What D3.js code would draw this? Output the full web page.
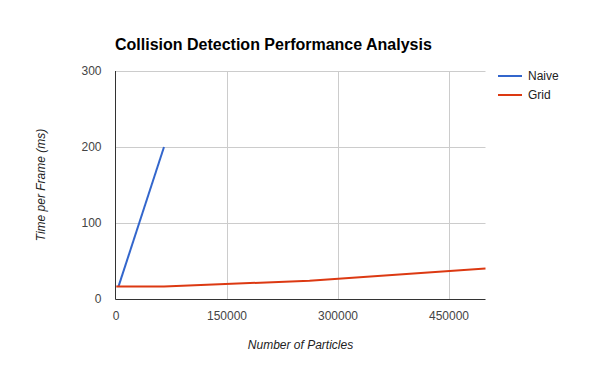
<!DOCTYPE html>
<html>
<head>
<meta charset="utf-8">
<script src="https://cdn.jsdelivr.net/npm/d3@7"></script>
<style>
  body { margin: 0; background: #fff; }
  text { font-family: Arial, "Liberation Sans", sans-serif; }
</style>
</head>
<body>
<svg id="chart" width="600" height="371"></svg>
<script>
const naiveX = [4096, 65536];
const naiveY = [16.6, 200];
const gridX = [1024, 65536, 262144, 500000];
const gridY = [16.3, 16.5, 24, 40];
const xTicks = [0, 150000, 300000, 450000];
const yTicks = [0, 100, 200, 300];
const seriesNames = ["Naive", "Grid"];
const seriesColors = ["#3366cc", "#dc3912"];

const plotLeft = 115.5, plotRight = 485.5, plotTop = 71, plotBottom = 299;

const svg = d3.select("#chart");

const xScale = d3.scaleLinear().domain([0, 500000]).range([plotLeft, plotRight]);
const yScale = d3.scaleLinear().domain([0, 300]).range([plotBottom, plotTop]);

// gridlines
svg.append("g")
  .selectAll("line")
  .data(yTicks.slice(1))
  .enter().append("line")
  .attr("x1", plotLeft).attr("x2", plotRight)
  .attr("y1", d => yScale(d) + 0.5).attr("y2", d => yScale(d) + 0.5)
  .attr("stroke", "#cccccc");

svg.append("g")
  .selectAll("line")
  .data(xTicks.slice(1))
  .enter().append("line")
  .attr("x1", d => Math.round(xScale(d)) + 0.5).attr("x2", d => Math.round(xScale(d)) + 0.5)
  .attr("y1", plotTop).attr("y2", plotBottom)
  .attr("stroke", "#cccccc");

// axes
const xAxis = d3.axisBottom(xScale).tickValues(xTicks).tickSize(0).tickPadding(12).tickFormat(d3.format("d"));
const yAxis = d3.axisLeft(yScale).tickValues(yTicks).tickSize(0).tickPadding(14).tickFormat(d3.format("d"));

const gx = svg.append("g")
  .attr("transform", `translate(0, ${plotBottom})`)
  .call(xAxis);
gx.select(".domain").remove();
gx.selectAll("text").attr("font-size", 12).attr("fill", "#444").attr("font-family", "Arial, 'Liberation Sans', sans-serif");

const gy = svg.append("g")
  .attr("transform", `translate(${plotLeft}, 0)`)
  .call(yAxis);
gy.select(".domain").remove();
gy.selectAll("text").attr("font-size", 12).attr("fill", "#444").attr("font-family", "Arial, 'Liberation Sans', sans-serif");

// lines
const line = d3.line().x(d => xScale(d[0])).y(d => yScale(d[1]));
const series = [
  d3.zip(naiveX, naiveY),
  d3.zip(gridX, gridY)
];

series.forEach((s, i) => {
  svg.append("path")
    .datum(s)
    .attr("d", line)
    .attr("fill", "none")
    .attr("stroke", seriesColors[i])
    .attr("stroke-width", 2);
});

// axis lines on top
svg.append("line")
  .attr("x1", plotLeft).attr("x2", plotLeft)
  .attr("y1", plotTop).attr("y2", plotBottom + 0.5)
  .attr("stroke", "#333");
svg.append("line")
  .attr("x1", plotLeft).attr("x2", plotRight)
  .attr("y1", plotBottom + 0.5).attr("y2", plotBottom + 0.5)
  .attr("stroke", "#333");

// title
svg.append("text")
  .attr("x", 115).attr("y", 50)
  .attr("font-size", 16).attr("font-weight", "bold")
  .attr("fill", "#000")
  .text("Collision Detection Performance Analysis");

// axis titles
svg.append("text")
  .attr("x", (plotLeft + plotRight) / 2).attr("y", 349)
  .attr("text-anchor", "middle")
  .attr("font-size", 12).attr("font-style", "italic")
  .attr("fill", "#222")
  .text("Number of Particles");

svg.append("text")
  .attr("transform", `translate(45, ${(plotTop + plotBottom) / 2}) rotate(-90)`)
  .attr("text-anchor", "middle")
  .attr("font-size", 12).attr("font-style", "italic")
  .attr("fill", "#222")
  .text("Time per Frame (ms)");

// legend
const legend = svg.append("g");
seriesNames.forEach((name, i) => {
  const y = 76 + i * 19;
  legend.append("line")
    .attr("x1", 498).attr("x2", 522)
    .attr("y1", y).attr("y2", y)
    .attr("stroke", seriesColors[i])
    .attr("stroke-width", 2);
  legend.append("text")
    .attr("x", 528).attr("y", y + 4)
    .attr("font-size", 12).attr("fill", "#222")
    .text(name);
});
</script>
</body>
</html>
